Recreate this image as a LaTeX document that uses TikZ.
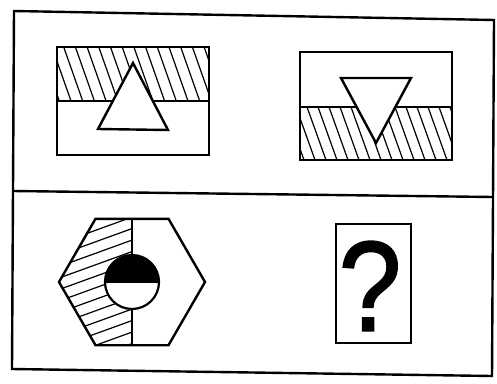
\documentclass[tikz,border=0pt]{standalone}
\usepackage{fontspec}
\setmainfont{Liberation Sans}
\newfontfamily\qfont[FakeBold=1.5]{Liberation Sans}
\begin{document}
\begin{tikzpicture}[x=1pt,y=-1pt,line join=miter,
  frame/.style={line width=2.4pt},
  outline/.style={line width=2.4pt,fill=white},
  bandline/.style={line width=1.8pt},
  hatch/.style={line width=1.2pt}]
\useasboundingbox (0,0) rectangle (497,383);
% outer frame and divider
\draw[frame] (14,11) -- (494,20) -- (492,376) -- (12,369) -- cycle;
\draw[frame] (13,191) -- (493,197);

% ---- top-left panel ----
\begin{scope}
  \clip (57,47) rectangle (209,101);
  \foreach \i in {-2,...,14} \draw[hatch] ({52+\i*11.7},47) -- ++(19,54);
\end{scope}
\draw[bandline] (57,101) -- (209,101);
\draw[frame] (57,47) rectangle (209,155);
\draw[outline] (133,63) -- (168,130) -- (98,129) -- cycle;

% ---- top-right panel ----
\begin{scope}
  \clip (300,107) rectangle (452,160);
  \foreach \i in {-2,...,15} \draw[hatch] ({296+\i*11},107) -- ++(19,53);
\end{scope}
\draw[bandline] (300,107) -- (452,107);
\draw[frame] (300,52) rectangle (452,160);
\draw[outline] (341,78) -- (411,78) -- (376,143) -- cycle;

% ---- hexagon ----
\coordinate (hc) at (132,282);
\begin{scope}
  \clip (59,282) -- (95.5,218.8) -- (132,218.8) -- (132,345.2) -- (95.5,345.2) -- cycle;
  \foreach \k in {0,...,16} \draw[hatch] (55,{222+\k*11.5}) -- ++(80,-29);
\end{scope}
\draw[frame] (59,282) -- (95.5,218.8) -- (168.5,218.8) -- (205,282) -- (168.5,345.2) -- (95.5,345.2) -- cycle;
\draw[line width=1.8pt] (132,218.8) -- (132,345.2);
\fill[white] (hc) circle (27);
\fill[black] (105,282) arc[start angle=180,end angle=360,radius=27] -- cycle;
\draw[line width=2.2pt] (hc) circle (27);
\draw[line width=2pt] (105,282) -- (159,282);

% ---- question box ----
\node[draw,line width=2.2pt,minimum width=75pt,minimum height=119pt,inner sep=0pt] (qbox) at (373.5,283.5) {};
\node[inner sep=0pt,font=\qfont\fontsize{128}{128}\selectfont] (q) at (370,286) {\scalebox{0.88}[1]{?}};
\end{tikzpicture}
\end{document}
